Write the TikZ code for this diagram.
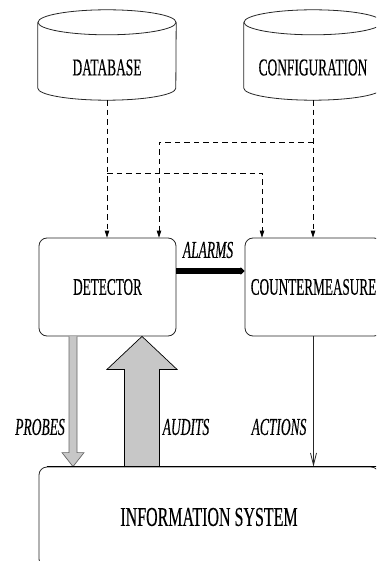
\documentclass[tikz,border=0pt]{standalone}
\usepackage{fontspec}
\setmainfont{Liberation Serif}
\usepackage{graphicx}
\usetikzlibrary{arrows.meta,calc}
\newcommand{\vst}[2][1.8]{\scalebox{1}[#1]{\addfontfeature{FakeBold=0.4}#2}}
\begin{document}
\begin{tikzpicture}[x=1pt,y=1pt,
  txt/.style={font=\fontsize{13.5}{14}\selectfont, inner sep=0pt},
  cylbody/.style={minimum width=138pt, minimum height=65pt, inner sep=0pt, font=\fontsize{13.4}{14}\selectfont},
  rbox/.style={draw=black!85, line width=0.8pt, rounded corners=8pt, minimum width=137pt, minimum height=98pt, inner sep=0pt, font=\fontsize{13.2}{14}\selectfont},
  edge/.style={draw=black!85, line width=0.8pt},
  dsh/.style={draw=black, dash pattern=on 5.5pt off 4pt, line width=0.8pt, -{Triangle[length=7pt,width=4.5pt]}},
  fat/.style={fill=black!22, line width=0.7pt}]
\useasboundingbox (0,0) rectangle (376,-561);
\clip (0,0) rectangle (376,-561);
% cylinders
\node[cylbody] (db) at (107,-67.5) {\vst{DATABASE}};
\node[cylbody] (cfg) at (313,-67.5) {\vst{CONFIGURATION}};
\foreach \c in {db,cfg}{
  \draw[edge] ([yshift=12.5pt]\c.north) ellipse [x radius=69pt, y radius=12.5pt];
  \draw[edge] ([yshift=12.5pt]\c.north west) -- ([yshift=12pt]\c.south west)
     arc[start angle=180, end angle=360, x radius=69pt, y radius=12pt]
     -- ([yshift=12.5pt]\c.north east);
}
% boxes
\node[rbox] (det) at (107.5,-287) {\vst{DETECTOR}};
\node[rbox] (cm) at (313.5,-287) {\vst{COUNTERMEASURE}};
\node[rbox, minimum width=340pt, minimum height=100pt, font=\fontsize{16}{17}\selectfont] (info) at (209,-517) {\vst[1.7]{INFORMATION SYSTEM}};
% dashed connectors
\draw[dsh] (db.south) -- (db.south |- det.north);
\draw[dsh] (cfg.south) -- (cfg.south |- cm.north);
\draw[dsh] (cfg.south |- 0,-142) -| ([xshift=51.5pt]det.north);
\draw[dsh] (db.south |- 0,-173) -| ([xshift=-51.5pt]cm.north);
% alarms
\draw[line width=5.5pt, -{Triangle[length=4pt 0 0,width=7.5pt 0 0]}] (det.east |- 0,-271) -- (cm.west |- 0,-271);
\node[txt] (alarms) at (208,-250) {\vst{\itshape ALARMS}};
% probes
\coordinate (pa) at ($(det.south)+(-34.5,0)$);
\coordinate (pb) at (pa |- info.north);
\draw[fat, draw=black!60] ($(pa)+(-4,0)$) -- ($(pb)+(-4,14)$) -- ($(pb)+(-11,14)$) -- (pb)
   -- ($(pb)+(11,14)$) -- ($(pb)+(4,14)$) -- ($(pa)+(4,0)$);
% audits
\coordinate (aa) at ($(det.south)+(34.5,0)$);
\coordinate (ab) at (aa |- info.north);
\draw[fat, draw=black] ($(ab)+(-17.5,0)$) -- ($(aa)+(-17.5,-33)$) -- ($(aa)+(-35,-33)$) -- (aa)
   -- ($(aa)+(35,-33)$) -- ($(aa)+(17.5,-33)$) -- ($(ab)+(17.5,0)$);
% actions
\draw[edge, -{Straight Barb[length=12pt,width=6pt]}] (cm.south) -- (cm.south |- info.north);
\draw[line width=1pt] ([xshift=8pt]info.north west) -- (info.north east);
\node[txt] (probes) at (40,-427) {\vst{\itshape PROBES}};
\node[txt] (audits) at (186,-427) {\vst{\itshape AUDITS}};
\node[txt] (actions) at (279,-427) {\vst{\itshape ACTIONS}};
\end{tikzpicture}
\end{document}
